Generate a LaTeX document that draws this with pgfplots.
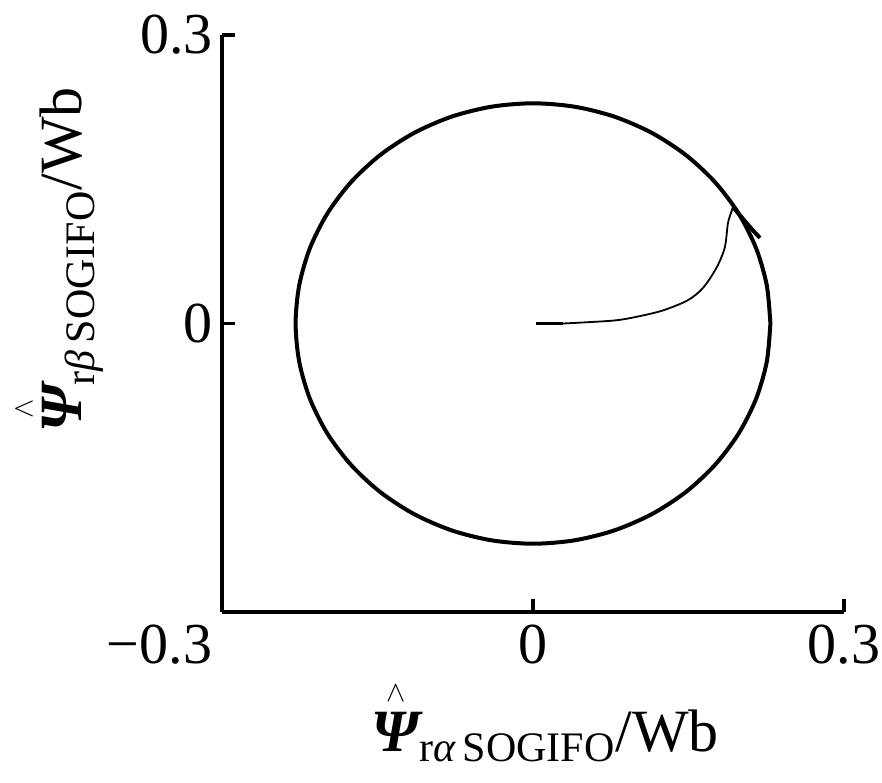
\documentclass[border=0pt]{standalone}
\usepackage{amsmath}
\usepackage{fontspec}
\setmainfont{Liberation Serif}
\usepackage{pgfplots}
\pgfplotsset{compat=1.18}
\newcommand{\Psihat}{\overset{\scriptscriptstyle\wedge}{\text{\bfseries\itshape Ψ}}}
\begin{document}
\begin{tikzpicture}
\path[use as bounding box] (-111pt,-85pt) rectangle (330pt,306pt);
\begin{axis}[
  at={(0,0)}, anchor=south west,
  scale only axis, width=311pt, height=288.5pt,
  xmin=-0.3, xmax=0.3, ymin=-0.3, ymax=0.3,
  axis x line=bottom, axis y line=left,
  axis line style={line width=1.7pt, -},
  xtick={-0.3,0,0.3}, ytick={-0.3,0,0.3},
  xticklabels={\makebox[0pt][r]{−0.3\hspace{5pt}},0,0.3}, yticklabels={,0,0.3},
  tick align=inside,
  major tick length=6.5pt,
  tick style={line width=1.7pt, black},
  tick label style={font=\fontsize{29}{33}\selectfont},
  xticklabel style={yshift=-3pt},
  yticklabel style={xshift=-1pt},
  label style={font=\fontsize{30}{34}\selectfont},
  xlabel={$\Psihat_{\text{r\itshape α\upshape\,SOGIFO}}$/Wb},
  ylabel={$\Psihat_{\text{r\itshape β\upshape\,SOGIFO}}$/Wb},
  xlabel style={at={(axis description cs:0.52,-0.19)}, anchor=center},
  ylabel style={at={(axis description cs:-0.265,0.61)}, anchor=center},
  clip=false,
]
% circle (steady-state trajectory)
\addplot[black, line width=2pt, smooth] coordinates {
(0.2290,0.0000) (0.2255,0.0398) (0.2152,0.0783) (0.1983,0.1145) (0.1754,0.1472)
(0.1472,0.1754) (0.1145,0.1983) (0.0783,0.2152) (0.0398,0.2255) (0.0000,0.2290)
(-0.0398,0.2255) (-0.0783,0.2152) (-0.1145,0.1983) (-0.1472,0.1754) (-0.1754,0.1472)
(-0.1983,0.1145) (-0.2152,0.0783) (-0.2255,0.0398) (-0.2290,0.0000) (-0.2255,-0.0398)
(-0.2152,-0.0783) (-0.1983,-0.1145) (-0.1754,-0.1472) (-0.1472,-0.1754) (-0.1145,-0.1983)
(-0.0783,-0.2152) (-0.0398,-0.2255) (0.0000,-0.2290) (0.0398,-0.2255) (0.0783,-0.2152)
(0.1145,-0.1983) (0.1472,-0.1754) (0.1754,-0.1472) (0.1983,-0.1145) (0.2152,-0.0783)
(0.2255,-0.0398) (0.2290,0.0000)
};
% end hook
\addplot[black, line width=2pt, smooth] coordinates {
(0.193,0.121) (0.204,0.107) (0.212,0.097) (0.219,0.089)
};
% start transient
\addplot[black, line width=1.6pt] coordinates {(0.003,0) (0.029,0)};
\addplot[black, line width=0.9pt, smooth] coordinates {
(0.029,0.000) (0.077,0.003) (0.100,0.007) (0.125,0.0135) (0.149,0.024)
(0.164,0.037) (0.177,0.058) (0.185,0.079) (0.188,0.104) (0.191,0.115) (0.193,0.121)
};
\end{axis}
\end{tikzpicture}
\end{document}
